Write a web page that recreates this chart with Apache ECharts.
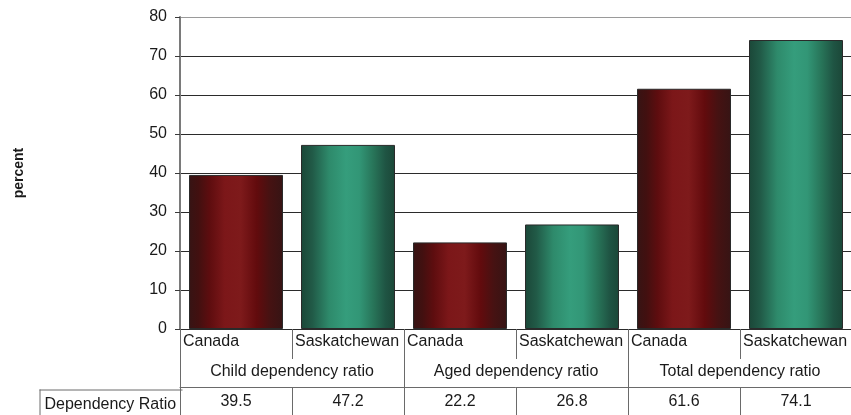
<!DOCTYPE html>
<html>
<head>
<meta charset="utf-8">
<script src="https://cdn.jsdelivr.net/npm/echarts@6/dist/echarts.min.js"></script>
<style>
  html, body { margin: 0; padding: 0; background: #fff; }
  #chart { width: 851px; height: 415px; }
</style>
</head>
<body>
<div id="chart"></div>
<script>
// Dependency ratios, Canada vs Saskatchewan
const regions = ['Canada', 'Saskatchewan'];
const groups = ['Child dependency ratio', 'Aged dependency ratio', 'Total dependency ratio'];
const canadaValues = [39.5, 22.2, 61.6];
const saskValues = [47.2, 26.8, 74.1];
const tableHeader = 'Dependency Ratio';
const yTicks = { min: 0, max: 80, step: 10 };

const FONT = '"Liberation Sans", Arial, sans-serif';
const TEXT = '#1a1a1a';
const FS = 16;

// Cylinder-like horizontal shading for each region
const shades = {
  Canada: [
    [0, '#361414'], [0.1, '#421010'], [0.22, '#5e0d0f'], [0.38, '#7c1719'],
    [0.55, '#7e1a1b'], [0.72, '#620b0d'], [0.86, '#461212'], [1, '#361414']
  ],
  Saskatchewan: [
    [0, '#1b4738'], [0.12, '#215a47'], [0.3, '#2e8a6b'], [0.48, '#359d7c'],
    [0.62, '#329676'], [0.78, '#277257'], [0.9, '#1f5443'], [1, '#1b4738']
  ]
};
function grad(name) {
  return new echarts.graphic.LinearGradient(0, 0, 1, 0,
    shades[name].map(s => ({ offset: s[0], color: s[1] })));
}

// Six bars: region within group
const cats = [];
const barData = [];
groups.forEach((g, i) => {
  [canadaValues[i], saskValues[i]].forEach((v, j) => {
    cats.push(g + '|' + regions[j]);
    barData.push({
      value: v,
      itemStyle: { color: grad(regions[j]), borderColor: '#2a2a2a', borderWidth: 1 }
    });
  });
});
const regionLabels = cats.map(c => c.split('|')[1]).concat(['']);

const splitColors = [];
for (let v = yTicks.min; v <= yTicks.max; v += yTicks.step) {
  splitColors.push(v === yTicks.max ? '#9a9a9a' : '#2b2b2b');
}

const chart = echarts.init(document.getElementById('chart'), null, { renderer: 'canvas' });
chart.setOption({
  animation: false,
  backgroundColor: '#fff',
  grid: { left: 180, right: -1, top: 17, bottom: 86, containLabel: false, outerBoundsMode: 'none' },
  yAxis: {
    type: 'value',
    min: yTicks.min, max: yTicks.max, interval: yTicks.step,
    name: 'percent',
    nameLocation: 'middle',
    nameRotate: 90,
    nameGap: 154,
    nameTextStyle: { fontFamily: FONT, fontSize: 14, fontWeight: 'bold', color: TEXT },
    axisLine: { show: true, lineStyle: { color: '#7a7a7a', width: 2 } },
    axisTick: { show: true, length: 5, lineStyle: { color: '#3a3a3a' } },
    axisLabel: { fontFamily: FONT, fontSize: FS, color: TEXT, margin: 13 },
    splitLine: { show: true, lineStyle: { color: splitColors, width: 1 } }
  },
  xAxis: [
    {
      // bar axis
      type: 'category', data: cats, position: 'bottom',
      axisLine: { show: true, onZero: false, lineStyle: { color: '#2b2b2b', width: 1 } },
      axisTick: { show: false }, axisLabel: { show: false }, splitLine: { show: false }
    },
    {
      // region names, left-aligned in each cell
      type: 'category', data: regionLabels, boundaryGap: false, position: 'bottom',
      axisLine: { show: false },
      axisTick: { show: true, length: 30, interval: 0, lineStyle: { color: '#6a6a6a' } },
      axisLabel: { interval: 0, align: 'left', margin: 5, padding: [0, 0, 0, 3],
        fontFamily: FONT, fontSize: FS, color: TEXT }
    },
    {
      // group names
      type: 'category', data: groups, position: 'bottom',
      axisLine: { show: false },
      axisTick: { show: true, length: 86, interval: 0, lineStyle: { color: '#6a6a6a' } },
      axisLabel: { interval: 0, margin: 35, fontFamily: FONT, fontSize: FS, color: TEXT }
    },
    {
      // data table row
      type: 'category', data: cats, position: 'bottom', offset: 58,
      axisLine: { show: true, lineStyle: { color: '#6a6a6a', width: 1 } },
      axisTick: { show: true, length: 28, interval: 0, lineStyle: { color: '#6a6a6a' } },
      axisLabel: { interval: 0, margin: 7, fontFamily: FONT, fontSize: FS, color: TEXT,
        formatter: (val, idx) => String(barData[idx].value) }
    }
  ],
  graphic: [
    {
      type: 'group', left: 37, top: 387,
      children: [
        { type: 'line', shape: { x1: 0, y1: 0.5, x2: 143, y2: 0.5 }, style: { stroke: '#6a6a6a', lineWidth: 1 } },
        { type: 'line', shape: { x1: 0.5, y1: 0, x2: 0.5, y2: 28 }, style: { stroke: '#6a6a6a', lineWidth: 1 } },
        { type: 'text', x: 5, y: 15, style: { text: tableHeader, font: FS + 'px ' + FONT, fill: TEXT, verticalAlign: 'middle' } }
      ]
    }
  ],
  series: [{
    type: 'bar', xAxisIndex: 0, data: barData, barWidth: 94
  }]
});
</script>
</body>
</html>
